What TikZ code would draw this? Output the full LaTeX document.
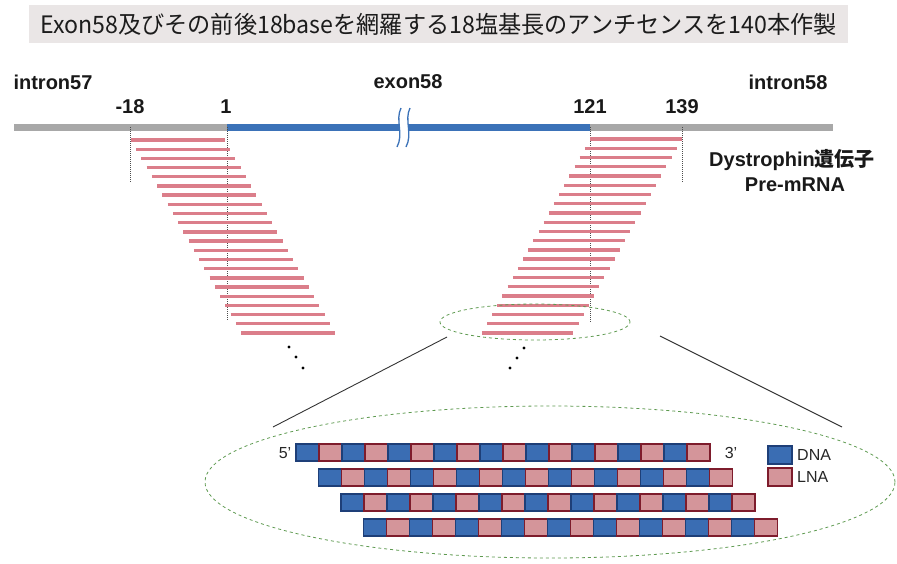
\documentclass[tikz,border=0pt]{standalone}
\usepackage{fontspec}
\setmainfont{Liberation Sans}
\newfontfamily\cjk{Noto Sans CJK JP}
\usetikzlibrary{shapes.geometric}
\definecolor{ttlbg}{HTML}{EAE6E6}
\definecolor{ttltx}{HTML}{1C1C1C}
\definecolor{intr}{HTML}{A8A8A8}
\definecolor{exn}{HTML}{3B72B8}
\definecolor{aso}{HTML}{DB7E8A}
\definecolor{dnaf}{HTML}{3A6DB3}
\definecolor{dnad}{HTML}{1E3F78}
\definecolor{lnaf}{HTML}{D4959A}
\definecolor{lnad}{HTML}{7E1C2C}
\definecolor{ellc}{HTML}{5E9A50}
\begin{document}
\begin{tikzpicture}[x=1pt,y=-1pt,
  lbl/.style={font=\fontsize{20}{20}\selectfont\bfseries, inner sep=0pt, text=black!90},
  small/.style={font=\fontsize{16}{16}\selectfont, inner sep=0pt, text=black!85},
  guide/.style={densely dotted, line width=1pt, black!70},
  oligo/.style={aso, line width=3.3pt},
  dnabox/.style={fill=dnaf, draw=dnad, line width=1.1pt},
  lnabox/.style={fill=lnaf, draw=lnad, line width=1.1pt},
  zoomell/.style={ellipse, draw=ellc, dashed, line width=0.8pt, inner sep=0pt},
  zoomline/.style={black!80, line width=0.9pt},
  bead/.style={circle, fill=black, inner sep=0pt, minimum size=3.2pt}]
\useasboundingbox (0,0) rectangle (897,563);
% title
\node[fill=ttlbg, minimum width=819pt, minimum height=38pt, inner sep=0pt,
      font=\cjk\fontsize{24}{24}\selectfont, text=ttltx] (title) at (438.5,24)
  {\scalebox{0.965}[1]{Exon58及びその前後18baseを網羅する18塩基長のアンチセンスを140本作製}};
% main pre-mRNA line
\draw[intr, line width=7pt] (14,127) -- (227,127);
\draw[exn, line width=7pt] (227,127) -- (590,127);
\draw[intr, line width=7pt] (590,127) -- (833,127);
% break mark
\fill[white] (401,108) .. controls (395,120) and (404,134) .. (397,147) -- (406,147) .. controls (413,134) and (404,120) .. (410,108) -- cycle;
\draw[exn, line width=1.3pt] (401,108) .. controls (395,120) and (404,134) .. (397,147);
\draw[exn, line width=1.3pt] (410,108) .. controls (404,120) and (413,134) .. (406,147);
% labels
\node[lbl] (in57) at (53,82) {intron57};
\node[lbl] (ex58) at (408,82) {exon58};
\node[lbl] (in58) at (788,82) {intron58};
\node[lbl] (pm18) at (130,107) {-18};
\node[lbl] (p1) at (226,107) {1};
\node[lbl] (p121) at (590,107) {121};
\node[lbl] (p139) at (682,107) {139};
\node[lbl] (dys) at (792,160) {Dystrophin{\cjk\bfseries 遺伝子}};
\node[lbl] (pre) at (795,185) {Pre-mRNA};
% guides
\draw[guide] (130,127) -- (130,183);
\draw[guide] (227,127) -- (227,320);
\draw[guide] (590,127) -- (590,323);
\draw[guide] (682,127) -- (682,183);
% antisense oligos
\foreach \i in {0,...,21} {
  \draw[oligo] (131+5.24*\i,140+9.19*\i) -- (225+5.24*\i,140+9.19*\i);
  \draw[oligo] (590-5.15*\i,139+9.24*\i) -- (682-5.17*\i,139+9.24*\i);
}
% continuation dots
\node[bead] (dl1) at (289,347) {};
\node[bead] (dl2) at (296,357) {};
\node[bead] (dl3) at (303,368) {};
\node[bead] (dr1) at (524,348) {};
\node[bead] (dr2) at (517,358) {};
\node[bead] (dr3) at (510,368) {};
% zoom ellipses
\node[zoomell, minimum width=190pt, minimum height=36pt] (smallell) at (535,322) {};
\node[zoomell, minimum width=690pt, minimum height=152pt] (bigell) at (550,482) {};
\coordinate (zl1) at (447,337);
\coordinate (zl2) at (273,427);
\coordinate (zr1) at (660,336);
\coordinate (zr2) at (842,427);
\draw[zoomline] (zl1) -- (zl2);
\draw[zoomline] (zr1) -- (zr2);
% DNA/LNA gapmers
\foreach \r in {0,...,3} {
  \foreach \k in {0,...,17} {
    \pgfmathsetmacro{\bx}{296+22.5*\r+23*\k}
    \pgfmathsetmacro{\by}{444+25*\r}
    \ifodd\k
      \draw[lnabox] (\bx,\by) rectangle ++(23,17);
    \else
      \draw[dnabox] (\bx,\by) rectangle ++(23,17);
    \fi
  }
}
\node[small] (five) at (285,453) {5'};
\node[small] (three) at (731,453) {3'};
% legend
\draw[dnabox] (768,446) rectangle (792,464);
\draw[lnabox] (768,468) rectangle (792,486);
\node[small, anchor=west] (dnal) at (797,455) {DNA};
\node[small, anchor=west] (lnal) at (797,477) {LNA};
\end{tikzpicture}
\end{document}
